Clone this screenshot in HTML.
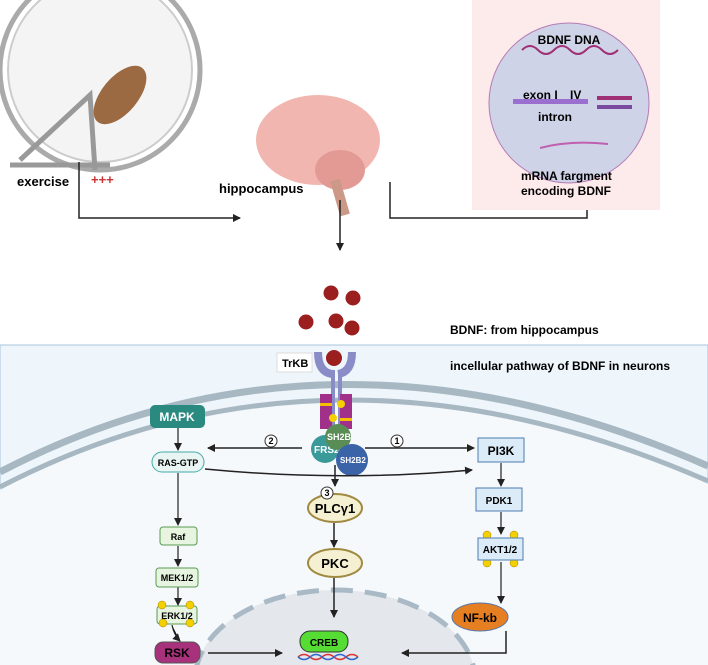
<!DOCTYPE html>
<html><head><meta charset="utf-8"><style>html,body{margin:0;background:#fff;width:708px;height:665px;overflow:hidden}svg{display:block;font-family:"Liberation Sans",sans-serif;font-weight:bold}</style></head><body>
<svg width="708" height="665" viewBox="0 0 708 665" xmlns="http://www.w3.org/2000/svg">
<defs><marker id="a" markerWidth="8" markerHeight="8" refX="7" refY="4" orient="auto" markerUnits="userSpaceOnUse"><path d="M0,0L8,4L0,8z" fill="#222"/></marker></defs>
<!-- hamster wheel -->
<circle cx="100" cy="70" r="100" fill="none" stroke="#aaa" stroke-width="5"/>
<circle cx="100" cy="70" r="92" fill="#f4f4f4" stroke="#ccc" stroke-width="2"/>
<path d="M20,160L90,95L95,170M10,165L110,165" stroke="#999" stroke-width="5" fill="none"/>
<ellipse cx="120" cy="95" rx="35" ry="18" fill="#9b6a42" transform="rotate(-50 120 95)"/>
<text x="17" y="186" font-size="13">exercise</text>
<text x="91" y="184" font-size="13" fill="#c33">+++</text>
<path d="M79,162V218H240" stroke="#222" stroke-width="1.5" fill="none" marker-end="url(#a)"/>
<!-- brain -->
<ellipse cx="318" cy="140" rx="62" ry="45" fill="#f1b6b0"/>
<ellipse cx="340" cy="170" rx="25" ry="20" fill="#e39a95"/>
<path d="M335,180L345,215" stroke="#c98" stroke-width="10"/>
<text x="219" y="193" font-size="13">hippocampus</text>
<path d="M340,200V250" stroke="#222" stroke-width="1.5" marker-end="url(#a)"/>
<path d="M390,182V218H587V195" stroke="#222" stroke-width="1.5" fill="none" marker-end="url(#a)"/>
<!-- pink panel -->
<rect x="472" y="0" width="188" height="210" fill="#fdeaea"/>
<circle cx="569" cy="103" r="80" fill="#cfd3e8" stroke="#b47bb4"/>
<text x="569" y="44" font-size="12" text-anchor="middle">BDNF DNA</text>
<path d="M522,50q8,-8 16,0t16,0t16,0t16,0t16,0t16,0" stroke="#a03075" stroke-width="2" fill="none"/>
<text x="523" y="99" font-size="12">exon I</text><text x="570" y="99" font-size="12">IV</text>
<rect x="513" y="99" width="75" height="5" fill="#9a6fd0"/><rect x="597" y="96" width="35" height="4" fill="#a03075"/><rect x="597" y="105" width="35" height="4" fill="#7a4aa0"/>
<text x="538" y="121" font-size="12">intron</text>
<path d="M540,148q30,-8 68,-4" stroke="#c060b0" stroke-width="2" fill="none"/>
<text x="521" y="180" font-size="12">mRNA fargment</text><text x="521" y="195" font-size="12">encoding BDNF</text>
<!-- BDNF balls -->
<g fill="#9c1f1f"><circle cx="331" cy="293" r="7.5"/><circle cx="353" cy="298" r="7.5"/><circle cx="306" cy="322" r="7.5"/><circle cx="336" cy="321" r="7.5"/><circle cx="352" cy="328" r="7.5"/></g>
<text x="450" y="334" font-size="12">BDNF: from hippocampus</text>
<!-- cell panel -->
<rect x="0" y="345" width="708" height="320" fill="#eef5fb" stroke="#a8c4dc"/>
<path d="M0,472Q330,300 708,466" stroke="#a8b8c3" stroke-width="7" fill="none"/>
<path d="M0,487Q330,316 708,481" stroke="#a8b8c3" stroke-width="5" fill="none"/>
<path d="M0,490Q330,319 708,484L708,665L0,665z" fill="#f6f9fc"/>
<ellipse cx="335" cy="680" rx="140" ry="90" fill="#e4e8ec" stroke="#a9b9c6" stroke-width="5" stroke-dasharray="22 12"/>
<text x="450" y="370" font-size="12">incellular pathway of BDNF in neurons</text>
<rect x="277" y="353" width="35" height="19" fill="#fff" stroke="#ddd"/><text x="282" y="367" font-size="11">TrKB</text>
<!-- receptor -->
<path d="M318,352q0,20 14,22M352,352q0,20 -14,22" stroke="#8a8cc8" stroke-width="8" fill="none"/>
<rect x="331" y="370" width="4" height="60" fill="#8a8cc8"/><rect x="338" y="370" width="4" height="60" fill="#8a8cc8"/>
<circle cx="334" cy="358" r="8" fill="#9c1f1f"/>
<rect x="320" y="394" width="12" height="35" fill="#a0308a"/><rect x="340" y="394" width="12" height="35" fill="#a0308a"/>
<rect x="320" y="403" width="12" height="3" fill="#f5c000"/><rect x="340" y="418" width="12" height="3" fill="#f5c000"/>
<circle cx="341" cy="404" r="4" fill="#f5d000"/><circle cx="333" cy="418" r="4" fill="#f5d000"/>
<circle cx="325" cy="449" r="14" fill="#3a9a9a"/><text x="314" y="453" font-size="10" fill="#fff">FRS2</text>
<circle cx="338" cy="437" r="13" fill="#5a8c55"/><text x="327" y="440" font-size="9" fill="#fff">SH2B</text>
<circle cx="352" cy="460" r="16" fill="#3b63a8"/><text x="340" y="463" font-size="8" fill="#fff">SH2B2</text>
<!-- arrows -->
<path d="M302,448H208" stroke="#222" stroke-width="1.5" marker-end="url(#a)"/>
<path d="M365,448H474" stroke="#222" stroke-width="1.5" marker-end="url(#a)"/>
<path d="M205,469Q340,482 472,470" stroke="#222" stroke-width="1.5" fill="none" marker-end="url(#a)"/>
<g font-size="9" text-anchor="middle"><circle cx="271" cy="441" r="6" fill="#fff" stroke="#333"/><text x="271" y="444">2</text>
<circle cx="397" cy="441" r="6" fill="#fff" stroke="#333"/><text x="397" y="444">1</text></g>
<rect x="150" y="405" width="55" height="23" rx="5" fill="#2a8a80"/><text x="177" y="421" font-size="12" fill="#fff" text-anchor="middle">MAPK</text>
<rect x="152" y="452" width="52" height="20" rx="10" fill="#e8f5f2" stroke="#4aa"/><text x="178" y="466" font-size="9" text-anchor="middle">RAS-GTP</text>
<rect x="478" y="438" width="46" height="24" fill="#dcebf8" stroke="#4c7db0"/><text x="501" y="455" font-size="12" text-anchor="middle">PI3K</text>
<path d="M335,465V486" stroke="#222" stroke-width="1.5" marker-end="url(#a)"/>
<ellipse cx="335" cy="508" rx="27" ry="14" fill="#f5f0d2" stroke="#a08a40" stroke-width="2"/><text x="335" y="513" font-size="13" text-anchor="middle">PLCγ1</text>
<circle cx="327" cy="493" r="6" fill="#fff" stroke="#333"/><text x="327" y="496" font-size="9" text-anchor="middle">3</text>
<path d="M334,523V547" stroke="#222" stroke-width="1.5" marker-end="url(#a)"/>
<ellipse cx="335" cy="563" rx="27" ry="14" fill="#f5f0d2" stroke="#a08a40" stroke-width="2"/><text x="335" y="568" font-size="13" text-anchor="middle">PKC</text>
<path d="M334,578V617" stroke="#222" stroke-width="1.5" marker-end="url(#a)"/>
<rect x="300" y="631" width="48" height="21" rx="10" fill="#55dd33" stroke="#333"/><text x="324" y="646" font-size="10" text-anchor="middle">CREB</text>
<path d="M298,657q6,-5 12,0t12,0t12,0t12,0t12,0" stroke="#d33" stroke-width="1.5" fill="none"/><path d="M298,657q6,5 12,0t12,0t12,0t12,0t12,0" stroke="#36c" stroke-width="1.5" fill="none"/>
<!-- left chain -->
<g stroke="#222" stroke-width="1.2" marker-end="url(#a)"><path d="M178,428V450"/><path d="M178,473V525"/><path d="M178,546V566"/><path d="M178,587V605"/><path d="M172,625q2,10 8,16"/></g>
<g fill="#e6f4e0" stroke="#5a9a50"><rect x="160" y="527" width="37" height="18" rx="3"/><rect x="156" y="568" width="42" height="19" rx="3"/><rect x="157" y="606" width="40" height="18" rx="3"/></g>
<g font-size="9" text-anchor="middle"><text x="178" y="540">Raf</text><text x="177" y="581">MEK1/2</text><text x="177" y="619">ERK1/2</text></g>
<g fill="#f5d000" stroke="#a08000" stroke-width=".5"><circle cx="162" cy="605" r="4"/><circle cx="190" cy="605" r="4"/><circle cx="163" cy="623" r="4"/><circle cx="190" cy="623" r="4"/>
<circle cx="487" cy="535" r="4"/><circle cx="514" cy="535" r="4"/><circle cx="487" cy="563" r="4"/><circle cx="514" cy="563" r="4"/></g>
<rect x="155" y="642" width="45" height="21" rx="8" fill="#a8317c" stroke="#555"/><text x="177" y="657" font-size="12" text-anchor="middle">RSK</text>
<path d="M208,653H282" stroke="#222" stroke-width="1.5" marker-end="url(#a)"/>
<!-- right chain -->
<g stroke="#222" stroke-width="1.2" marker-end="url(#a)"><path d="M501,463V486"/><path d="M501,512V534"/><path d="M501,562V603"/></g>
<rect x="476" y="488" width="46" height="23" fill="#dcebf8" stroke="#4c7db0"/><text x="499" y="504" font-size="10" text-anchor="middle">PDK1</text>
<rect x="478" y="538" width="45" height="22" fill="#dcebf8" stroke="#4c7db0"/><text x="500" y="553" font-size="10" text-anchor="middle">AKT1/2</text>
<ellipse cx="480" cy="617" rx="28" ry="14" fill="#e67e22" stroke="#5577aa"/><text x="480" y="622" font-size="12" text-anchor="middle">NF-kb</text>
<path d="M506,631V653H402" stroke="#222" stroke-width="1.5" fill="none" marker-end="url(#a)"/>
</svg>
</body></html>
